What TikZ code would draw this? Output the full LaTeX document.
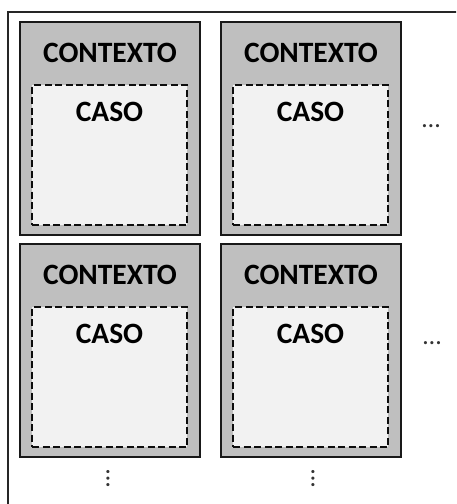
\documentclass[tikz,border=0pt]{standalone}
\usepackage{fontspec}
\setmainfont{Carlito}
\begin{document}
\begin{tikzpicture}[x=1pt,y=-1pt,
  contextbox/.style={draw=black!90, line width=2.2pt, fill=black!25, rectangle,
    minimum width=180pt, minimum height=213pt, inner sep=0pt},
  casebox/.style={draw=black!95, line width=1.6pt, dash pattern=on 7pt off 3.5pt,
    fill=black!5, rectangle, minimum width=155pt, minimum height=140pt, inner sep=0pt},
  boxlabel/.style={font=\fontsize{29.5}{32}\selectfont\bfseries, inner sep=0pt, anchor=center},
  more/.style={font=\fontsize{26}{28}\selectfont, inner sep=0pt, text=black!80}]
  \clip (0,0) rectangle (456,504);
  % outer frame, open towards right and bottom
  \draw[line width=1.8pt, draw=black!85] (8,12) rectangle (470,520);

  % context boxes
  \node[contextbox] (c1) at (110,128.5) {};
  \node[contextbox] (c2) at (311,128.5) {};
  \node[contextbox] (c3) at (110,350.5) {};
  \node[contextbox] (c4) at (311,350.5) {};

  \foreach \c in {c1,c2,c3,c4} {
    \node[casebox] (\c case) at ([xshift=-0.5pt,yshift=-26.5pt]\c.center) {};
    \node[boxlabel] (\c lbl) at ([yshift=-32pt]\c.north) {CONTEXTO};
    \node[boxlabel] (\c caselbl) at ([yshift=-28pt]\c case.north) {CASO};
  }

  % continuation marks
  \node[more] (h1) at (431,126) {\dots};
  \node[more] (h2) at (432,343) {\dots};
  \node[more, rotate=90] (v1) at (108,479) {\dots};
  \node[more, rotate=90] (v2) at (313,479) {\dots};
\end{tikzpicture}
\end{document}
